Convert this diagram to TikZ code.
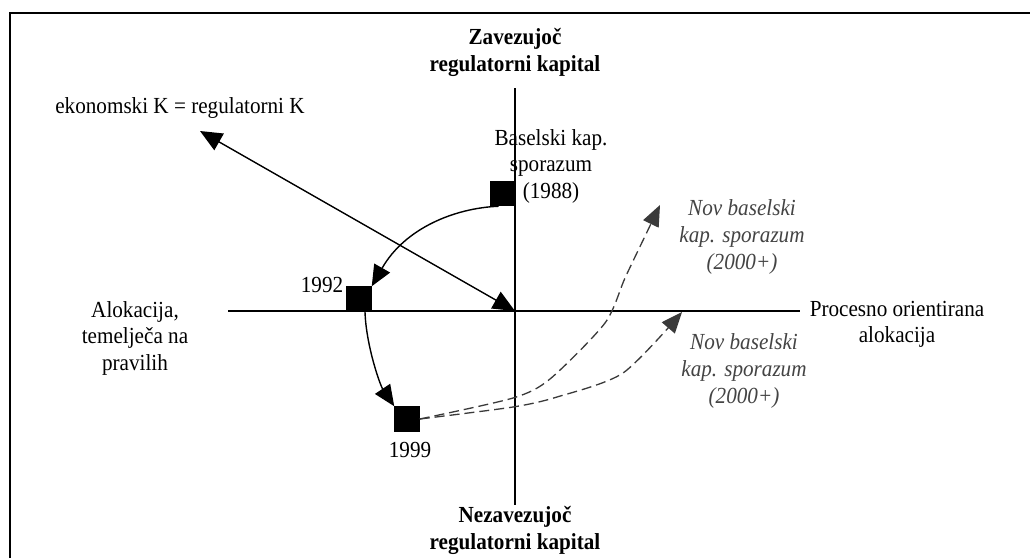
\documentclass[tikz,border=0pt]{standalone}
\usepackage{fontspec}
\setmainfont{Liberation Serif}[FakeStretch=0.92]
\usetikzlibrary{arrows.meta}
\definecolor{dashgray}{HTML}{3A3A3A}
\definecolor{labgray}{HTML}{444444}
\begin{document}
\begin{tikzpicture}[x=1pt,y=-1pt,
  lbl/.style={font=\fontsize{23}{26.5}\selectfont, align=center, inner sep=0pt},
  boldlbl/.style={lbl, font=\fontsize{23}{26.5}\selectfont\bfseries},
  newlbl/.style={lbl, font=\fontsize{23}{27}\selectfont\itshape, text=labgray},
  sq/.style={fill=black, minimum size=25.5pt, inner sep=0pt, outer sep=0pt},
  axis/.style={line width=1.5pt},
  conn/.style={line width=1.4pt, -{Triangle[length=21pt,width=18pt]}},
  dconn/.style={line width=1.3pt, draw=dashgray, dash pattern=on 10pt off 5pt,
    -{Triangle[length=21pt,width=17pt,fill=dashgray]}}
]
\useasboundingbox (0,0) rectangle (1030,558);
\fill[white] (0,0) rectangle (1030,558);

% frame
\draw[line width=2pt] (10,558) -- (10,13) -- (1030,13);

% axes
\coordinate (o) at (515,311);
\coordinate (xl) at (228,311);
\coordinate (xr) at (800,311);
\coordinate (yt) at (515,88);
\coordinate (yb) at (515,505);
\draw[axis] (xl) -- (xr);
\draw[axis] (yt) -- (yb);

% axis captions
\node[boldlbl] (zav) at (515,52.5) {Zavezujoč\\regulatorni kapital};
\node[boldlbl] (nez) at (515,530.5) {Nezavezujoč\\regulatorni kapital};
\node[lbl] (aloc) at (135,338) {Alokacija,\\temelječa na\\pravilih};
\node[lbl] (proc) at (897,324.5) {Procesno orientirana\\alokacija};

% economic = regulatory capital line
\node[lbl] (ek) at (180,108) {ekonomski K = regulatorni K};
\coordinate (ektip) at (200,131);
\draw[line width=1.4pt, {Triangle[length=22pt,width=19pt]}-{Triangle[length=22pt,width=19pt]}] (ektip) -- (o);

% milestones
\node[sq] (s1988) at (502.3,193.5) {};
\node[sq] (s1992) at (359,299) {};
\node[sq] (s1999) at (407,419) {};
\node[lbl] (l1988) at (551,166) {Baselski kap.\\sporazum\\(1988)};
\node[lbl] (l1992) at (322,285) {1992};
\node[lbl] (l1999) at (410,450) {1999};

\draw[conn] ([xshift=9pt]s1988.south west) .. controls (455,208) and (405,228) .. (s1992.north east);
\draw[conn] ([xshift=6pt]s1992.south) .. controls (366,345) and (380,385) .. (s1999.north west);

% new accord paths
\node[newlbl] (nov1) at (742,237) {Nov baselski\\kap. sporazum\\(2000+)};
\node[newlbl] (nov2) at (744,371) {Nov baselski\\kap. sporazum\\(2000+)};
\coordinate (t1) at (660,205);
\coordinate (t2) at (682,312);
\draw[dconn] plot[smooth, tension=0.45] coordinates {(s1999.east) (513,398) (550,379) (605,323) (625,278) (647,232) (t1)};
\draw[dconn] plot[smooth, tension=0.45] coordinates {(s1999.east) (513,407) (557,397) (623,373) (t2)};
\end{tikzpicture}
\end{document}
